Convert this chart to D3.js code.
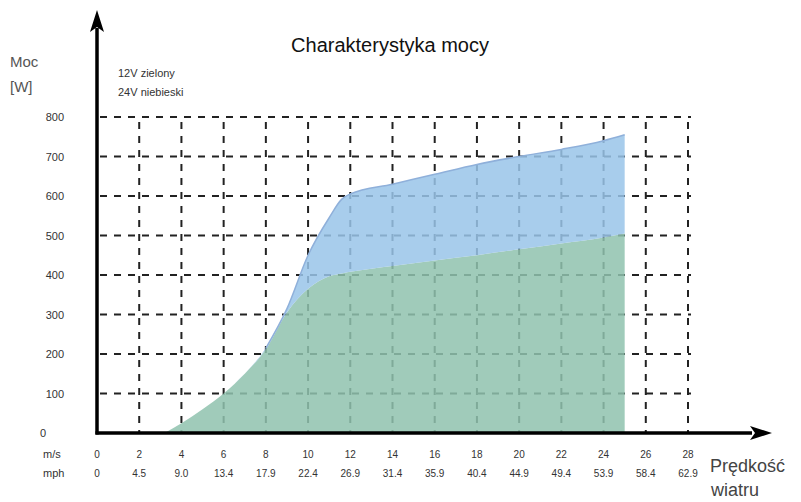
<!DOCTYPE html>
<html><head><meta charset="utf-8">
<script src="https://cdn.jsdelivr.net/npm/d3@7"></script>
<style>body{margin:0;background:#fff}svg{display:block}text{font-family:Arial,"Liberation Sans",sans-serif}</style>
</head><body><svg id="c" width="801" height="502"></svg>
<script>
const speeds = [3.2, 4, 5, 6, 7, 8, 9, 10, 11, 11.6, 12, 14, 16, 18, 20, 22, 24, 25];
const power12V = [0, 25, 60, 100, 150, 212, 305, 365, 397, 404, 408, 423, 437, 450, 465, 480, 495, 505];
const power24V = [0, 25, 60, 100, 150, 215, 315, 450, 545, 592, 605, 630, 655, 680, 700, 718, 740, 755];
const msTicks = [0, 2, 4, 6, 8, 10, 12, 14, 16, 18, 20, 22, 24, 26, 28];
const mphLabels = ["0", "4.5", "9.0", "13.4", "17.9", "22.4", "26.9", "31.4", "35.9", "40.4", "44.9", "49.4", "53.9", "58.4", "62.9"];
const yTicks = [0, 100, 200, 300, 400, 500, 600, 700, 800];

const svg = d3.select("#c");
const x = d3.scaleLinear().domain([0, 28]).range([97, 688]);
const y = d3.scaleLinear().domain([0, 800]).range([433, 117]);

// grid
const g = svg.append("g").attr("stroke", "#222").attr("stroke-width", 2).attr("stroke-dasharray", "7,7");
yTicks.filter(d => d > 0).forEach(v => {
  g.append("line").attr("x1", x(0) + 3).attr("x2", x(28) + 3).attr("y1", y(v)).attr("y2", y(v));
});
msTicks.filter(d => d > 0).forEach(v => {
  g.append("line").attr("x1", x(v)).attr("x2", x(v)).attr("y1", y(800) + 5).attr("y2", y(0));
});

// areas
const idx = speeds.map((s, i) => i);
const areaBlue = d3.area().x(i => x(speeds[i])).y0(i => y(power12V[i])).y1(i => y(power24V[i])).curve(d3.curveMonotoneX);
const areaGreen = d3.area().x(i => x(speeds[i])).y0(y(0)).y1(i => y(power12V[i])).curve(d3.curveMonotoneX);
svg.append("path").datum(idx).attr("d", areaGreen).attr("fill", "rgb(143,194,174)").attr("fill-opacity", 0.85);
svg.append("path").datum(idx).attr("d", areaBlue).attr("fill", "rgb(153,196,233)").attr("fill-opacity", 0.85);
const topLine = d3.line().x(i => x(speeds[i])).y(i => y(power24V[i])).curve(d3.curveMonotoneX);
svg.append("path").datum(idx.filter(i => power24V[i] > power12V[i] + 2)).attr("d", topLine)
  .attr("fill", "none").attr("stroke", "#8fb0da").attr("stroke-width", 1.5);

// axes
const axisG = svg.append("g");
axisG.append("line").attr("x1", x(0)).attr("x2", x(0)).attr("y1", y(0) + 1.5).attr("y2", 28).attr("stroke", "#000").attr("stroke-width", 3.5);
axisG.append("path").attr("d", `M${x(0)},10 L${x(0) - 7},32 L${x(0)},27 L${x(0) + 7},32 Z`).attr("fill", "#000");
axisG.append("line").attr("x1", x(0) - 1.5).attr("x2", 752).attr("y1", y(0)).attr("y2", y(0)).attr("stroke", "#000").attr("stroke-width", 3.5);
axisG.append("path").attr("d", `M772,${y(0)} L750,${y(0) - 7} L755,${y(0)} L750,${y(0) + 7} Z`).attr("fill", "#000");

// y labels
svg.append("g").selectAll("text").data(yTicks).join("text")
  .attr("x", d => d === 0 ? 46 : 64).attr("y", d => y(d) + 4)
  .attr("text-anchor", "end").attr("font-size", 11).attr("fill", "#333").text(d => d);

// x labels
svg.append("g").selectAll("text").data(msTicks).join("text")
  .attr("x", d => x(d)).attr("y", 458).attr("text-anchor", "middle").attr("font-size", 10).attr("fill", "#333").text(d => d);
svg.append("g").selectAll("text").data(mphLabels).join("text")
  .attr("x", (d, i) => x(msTicks[i])).attr("y", 477).attr("text-anchor", "middle").attr("font-size", 10).attr("fill", "#333").text(d => d);
svg.append("text").attr("x", 43).attr("y", 458).attr("font-size", 11).attr("fill", "#333").text("m/s");
svg.append("text").attr("x", 43).attr("y", 477).attr("font-size", 11).attr("fill", "#333").text("mph");

// titles
svg.append("text").attr("x", 390).attr("y", 52).attr("text-anchor", "middle").attr("font-size", 20).attr("fill", "#111").text("Charakterystyka mocy");
svg.append("text").attr("x", 10).attr("y", 67).attr("font-size", 15).attr("fill", "#555").text("Moc");
svg.append("text").attr("x", 10).attr("y", 92).attr("font-size", 15).attr("fill", "#555").text("[W]");
svg.append("text").attr("x", 118).attr("y", 77).attr("font-size", 11).attr("fill", "#333").text("12V zielony");
svg.append("text").attr("x", 118).attr("y", 96).attr("font-size", 11).attr("fill", "#333").text("24V niebieski");
svg.append("text").attr("x", 710).attr("y", 472).attr("font-size", 18).attr("fill", "#444").text("Prędkość");
svg.append("text").attr("x", 711).attr("y", 496).attr("font-size", 18).attr("fill", "#444").text("wiatru");
</script></body></html>
